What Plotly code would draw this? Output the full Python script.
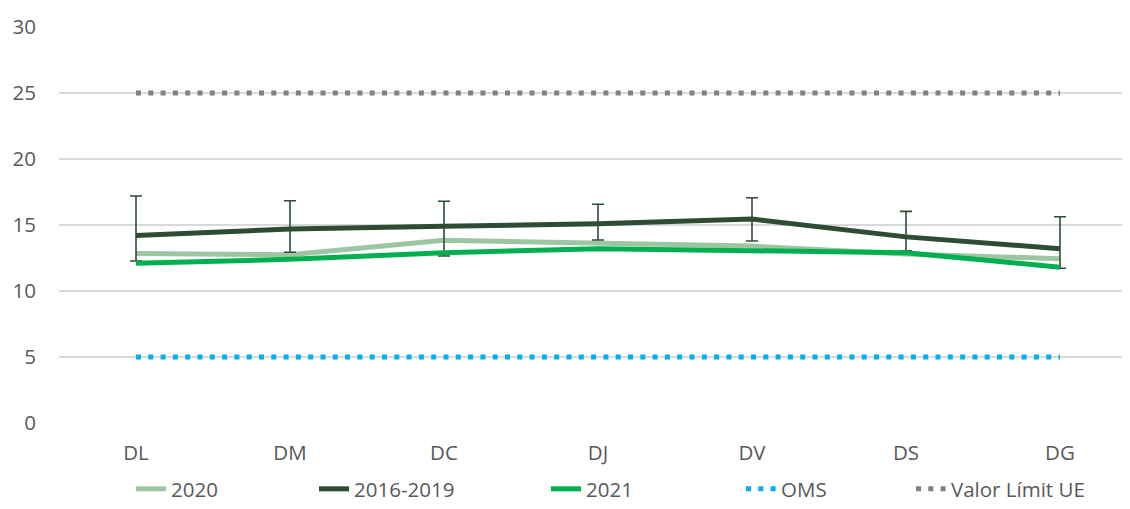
import plotly.graph_objects as go

days = ["DL", "DM", "DC", "DJ", "DV", "DS", "DG"]
y_2020 = [12.85, 12.75, 13.85, 13.65, 13.4, 12.8, 12.45]
y_1619 = [14.2, 14.7, 14.9, 15.1, 15.45, 14.1, 13.2]
err_plus_1619 = [3.0, 2.14, 1.9, 1.47, 1.62, 1.93, 2.43]
err_minus_1619 = [1.93, 1.77, 2.25, 1.24, 1.66, 1.05, 1.48]
y_2021 = [12.1, 12.4, 12.9, 13.2, 13.05, 12.9, 11.8]
oms = [5] * 7
ue = [25] * 7
y_ticks = [0, 5, 10, 15, 20, 25, 30]

FONT = "Open Sans"
TXT = "#595959"
FS = 20.5
W, H = 1122, 501

fig = go.Figure()
fig.add_trace(go.Scatter(x=days, y=y_2020, name="2020", mode="lines", legendwidth=138,
                         line=dict(color="#9cc5a1", width=5)))
fig.add_trace(go.Scatter(x=days, y=y_1619, name="2016-2019", mode="lines", legendwidth=187,
                         line=dict(color="#2c4d34", width=5),
                         error_y=dict(type="data", array=err_plus_1619,
                                      arrayminus=err_minus_1619, symmetric=False,
                                      color="#2c4d34", thickness=1.6, width=6)))
fig.add_trace(go.Scatter(x=days, y=y_2021, name="2021", mode="lines", legendwidth=150,
                         line=dict(color="#00b050", width=5)))
fig.add_trace(go.Scatter(x=days, y=oms, name="OMS", mode="lines", legendwidth=125,
                         line=dict(color="#00b0f0", width=5, dash="5px,7.3px")))
fig.add_trace(go.Scatter(x=days, y=ue, name="Valor Límit UE", mode="lines", legendwidth=140,
                         line=dict(color="#808080", width=5, dash="5px,7.3px")))

fig.update_layout(
    width=W, height=H,
    margin=dict(l=51, r=0, t=19, b=86),
    paper_bgcolor="white", plot_bgcolor="white",
    font=dict(family=FONT, size=FS, color=TXT),
    showlegend=True,
    legend=dict(orientation="h", xref="container", yref="container",
                x=123 / W, xanchor="left", y=-4 / H, yanchor="bottom",
                font=dict(family=FONT, size=FS, color=TXT), traceorder="normal",
                bgcolor="rgba(0,0,0,0)"),
    xaxis=dict(type="category", range=[-0.5, 6.4545], showgrid=False, zeroline=False,
               showline=False, ticks="", ticklabelstandoff=15, automargin=False,
               tickfont=dict(family=FONT, size=FS, color=TXT)),
    yaxis=dict(range=[0, 30], tickvals=y_ticks, showgrid=True, gridcolor="#d9d9d9",
               gridwidth=1.5, zeroline=False, showline=False, ticks="", automargin=False,
               ticklabelstandoff=22, tickfont=dict(family=FONT, size=FS, color=TXT)),
)

fig.write_html("out.html")
